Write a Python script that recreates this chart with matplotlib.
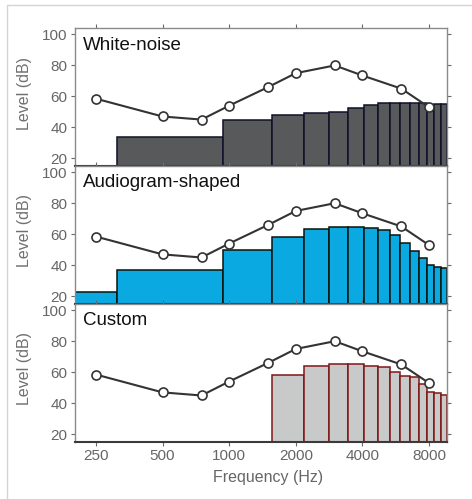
import matplotlib
matplotlib.use('Agg')
import matplotlib.pyplot as plt
import numpy as np
from matplotlib.patches import Rectangle

plt.rcParams['font.family'] = ['Liberation Sans', 'DejaVu Sans']

# --- data ---
# frequency bands (Hz), 625 Hz wide
band_edges = [0, 312.5, 937.5, 1562.5, 2187.5, 2812.5, 3437.5, 4062.5, 4687.5,
              5312.5, 5937.5, 6562.5, 7187.5, 7812.5, 8437.5, 9062.5, 9687.5]

# audiogram-like line (same in every panel)
line_freqs = [250, 500, 750, 1000, 1500, 2000, 3000, 4000, 6000, 8000]
line_levels = [58.5, 47, 45, 54, 66, 75, 80, 73.5, 65, 53]

# white-noise masker: bands 1..15
white_levels = [34, 45, 48, 49, 50, 52.5, 54.5, 56, 56, 56, 56, 56, 50.5, 55, 55]
white_first_band = 1

# audiogram-shaped masker: bands 0..15
audio_levels = [22.5, 36.8, 50, 58.4, 63.4, 64.4, 64.4, 63.8, 62.7, 59.2,
                54.5, 49.3, 44.5, 40.2, 39.1, 38.2]
audio_first_band = 0

# custom masker: bands 3..15
custom_levels = [58, 64.3, 65, 65, 64.2, 63.2, 60.4, 57.8, 56.7, 52.4, 47.4, 46.3, 45]
custom_first_band = 3

panel_titles = ['White-noise', 'Audiogram-shaped', 'Custom']
xtick_values = [250, 500, 1000, 2000, 4000, 8000]
ytick_values = [20, 40, 60, 80, 100]

# --- figure ---
W, H = 472, 499
fig = plt.figure(figsize=(W / 100, H / 100), dpi=100)

# light frame around the figure
fig.patches.append(Rectangle((7 / W, -0.1), 1.2, 1.1 - 5 / H, transform=fig.transFigure,
                             fill=False, edgecolor='#d4d4d4', linewidth=1.0))

left, right = 74.5, 447
panel_px = [(28.3, 166), (166, 304), (304, 442)]

panels = [
    (white_levels, white_first_band, '#58595b', '#10102a'),
    (audio_levels, audio_first_band, '#0aa9e2', '#0a140c'),
    (custom_levels, custom_first_band, '#c8c9c9', '#7e1616'),
]

grey = '#6a6a6a'
for i, ((top, bot), (levels, first, fc, ec)) in enumerate(zip(panel_px, panels)):
    ax = fig.add_axes([left / W, 1 - bot / H, (right - left) / W, (bot - top) / H])
    ax.set_xscale('log')

    lo = np.array(band_edges[first:first + len(levels)])
    hi = np.array(band_edges[first + 1:first + 1 + len(levels)])
    lo = np.maximum(lo, 1.0)
    ax.bar(lo, np.array(levels) - 15, width=hi - lo, bottom=15, align='edge',
           color=fc, edgecolor=ec, linewidth=1.1, zorder=2)

    ax.plot(line_freqs, line_levels, color='#333333', lw=1.5, marker='o',
            mfc='white', mec='#333333', ms=6.5, mew=1.2, zorder=4, clip_on=False)

    ax.set_xlim(200, 9650)
    ax.set_ylim(15, 104)
    ax.xaxis.set_minor_locator(matplotlib.ticker.NullLocator())
    ax.set_xticks(xtick_values)
    ax.set_yticks(ytick_values)
    ax.tick_params(which='both', direction='out', length=3, width=0.8, color=grey,
                   labelcolor='#666666', labelsize=11, top=True, right=True, pad=2)
    if i < 2:
        ax.set_xticklabels([])
    else:
        ax.set_xticklabels([str(v) for v in xtick_values])
        ax.set_xlabel('Frequency (Hz)', fontsize=11.5, color='#666666', labelpad=2)
        ax.xaxis.set_label_coords(0.52, -0.2)

    for s in ['left', 'right', 'top']:
        ax.spines[s].set_color('#8a8a8a')
        ax.spines[s].set_linewidth(1.0)
    ax.spines['bottom'].set_color('#3a3a3a')
    ax.spines['bottom'].set_linewidth(1.5)
    ax.spines['bottom'].set_zorder(5)

    ax.set_ylabel('Level (dB)', fontsize=11.5, color='#707070')
    ax.yaxis.set_label_coords(-0.115, 0.53)

    ax.text(0.023, 0.845, panel_titles[i], transform=ax.transAxes, fontsize=13.5,
            color='#111111', va='baseline', ha='left', zorder=6)

fig.savefig('out.png', dpi=100)
